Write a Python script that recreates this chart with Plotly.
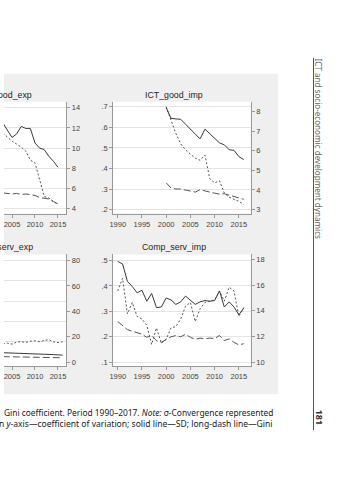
import plotly.graph_objects as go

W, H = 359, 480
def fx(p): return p / W
def fy(p): return 1 - p / H

# ---------------- data ----------------
# ICT_good_exp (visible part, right axis units)
yrs_ge = list(range(2003, 2016))
ge_sd   = [12.5, 11.7, 11.05, 11.4, 12.15, 11.95, 11.95, 10.5, 10.0, 9.85, 9.2, 8.7, 8.1]
ge_cv   = [11.5, 11.1, 10.7, 10.4, 10.1, 9.7, 8.8, 8.55, 6.9, 5.2, 5.05, 4.75, 4.4]
ge_gini = [5.55, 5.5, 5.45, 5.5, 5.4, 5.45, 5.4, 5.3, 5.1, 5.05, 4.95, 4.7, 4.45]

# ICT_good_imp
yrs_gi = list(range(2000, 2017))
gi_sd   = [8.2, 7.65, 7.62, 7.6, 7.35, 7.1, 6.85, 6.6, 7.1, 6.85, 6.65, 6.4, 6.3, 6.05, 6.02, 5.7, 5.55]
gi_cv   = [.70, .63, .57, .52, .49, .47, .45, .44, .465, .35, .33, .34, .28, .26, .25, .24, .225]
gi_gini = [.33, .305, .30, .30, .295, .29, .285, .297, .29, .285, .28, .275, .277, .27, .265, .258, .25]

# Comp_serv_exp (visible part, right axis units)
yrs_se = list(range(2003, 2017))
se_cv   = [14.5, 15.0, 14.2, 15.8, 16.3, 15.5, 16.5, 16.8, 16.2, 17.2, 17.8, 16.0, 15.5, 16.0]
se_sd   = [7.5, 7.4, 7.2, 7.0, 6.9, 6.8, 6.7, 6.6, 6.5, 6.4, 6.6, 6.0, 5.8, 5.6]
se_gini = [4.4, 4.3, 4.2, 4.0, 3.9, 3.9, 3.8, 3.8, 3.7, 3.7, 3.8, 3.6, 3.6, 3.5]

# Comp_serv_imp
yrs_si = list(range(1990, 2017))
si_sd   = [17.85, 17.65, 16.3, 15.9, 15.4, 15.6, 14.75, 15.35, 14.25, 14.3, 15.0, 14.85, 14.5,
           14.7, 15.15, 14.8, 14.5, 14.7, 14.8, 14.75, 14.8, 15.55, 14.3, 14.7, 14.3, 13.7, 14.2]
si_cv   = [.38, .43, .29, .335, .28, .27, .245, .17, .235, .175, .19, .235, .24, .27, .32, .335,
           .26, .31, .335, .34, .345, .38, .34, .395, .38, .28, .315]
si_gini = [.26, .245, .228, .222, .215, .21, .198, .205, .185, .178, .19, .2, .205, .2, .21, .198,
           .19, .195, .192, .195, .193, .205, .185, .192, .178, .168, .173]

# tick labels
x_ticks = [1990, 1995, 2000, 2005, 2010, 2015]
gi_left_ticks = [.2, .3, .4, .5, .6, .7]
gi_right_ticks = [3, 4, 5, 6, 7, 8]
ge_right_ticks = [4, 6, 8, 10, 12, 14]
se_right_ticks = [0, 20, 40, 60, 80]
se_grid_ticks = [1, 2, 3, 4, 5]
si_left_ticks = [.1, .2, .3, .4, .5]
si_right_ticks = [10, 12, 14, 16, 18]

def dotlab(v):
    return ("%.1f" % v).lstrip("0")

# ---------------- layout geometry ----------------
XL = [fx(0), fx(63)]
XR = [fx(110.5), fx(249.5)]
YT = [fy(214), fy(102)]
YB = [fy(367), fy(255)]

FONT = "Liberation Sans"
AX = "#9a9a9a"
GRID = "#e4e4e4"
tickfont = dict(size=7.5, color="#444", family=FONT)

def xax(domain, rng, anchor):
    return dict(domain=domain, range=rng, anchor=anchor, tickvals=x_ticks,
                showline=True, linecolor=AX, linewidth=1, ticks="outside", ticklen=3,
                tickcolor=AX, tickwidth=1, tickfont=tickfont, showgrid=False,
                zeroline=False, fixedrange=True)

def yax(rng, anchor, side, tv, tt=None, grid=False, domain=None, overlaying=None):
    d = dict(range=rng, anchor=anchor, side=side, tickvals=tv,
             ticktext=tt if tt else [str(v) for v in tv],
             showline=True, linecolor=AX, linewidth=1, ticks="outside", ticklen=3,
             tickcolor=AX, tickwidth=1, tickfont=tickfont, showgrid=grid,
             gridcolor=GRID, gridwidth=1, zeroline=False, fixedrange=True)
    if domain is not None:
        d["domain"] = domain
    if overlaying:
        d["overlaying"] = overlaying
    return d

SOLID = dict(color="#3a3a3a", width=1, dash="solid")
DOT = dict(color="#555555", width=1, dash="2px,2px")
LDASH = dict(color="#555555", width=1, dash="7px,3px")

fig = go.Figure()
def add(x, y, line, xa, ya):
    fig.add_trace(go.Scatter(x=x, y=y, mode="lines", line=line, xaxis=xa, yaxis=ya,
                             showlegend=False, hoverinfo="skip"))

# panel A: ICT_good_exp
add(yrs_ge, ge_cv, DOT, "x", "y")
add(yrs_ge, ge_gini, LDASH, "x", "y")
add(yrs_ge, ge_sd, SOLID, "x", "y")
# panel B: ICT_good_imp
add(yrs_gi, gi_cv, DOT, "x2", "y2")
add(yrs_gi, gi_gini, LDASH, "x2", "y2")
add(yrs_gi, gi_sd, SOLID, "x2", "y3")
# panel C: Comp_serv_exp (empty trace registers the grid axis y4)
fig.add_trace(go.Scatter(x=[], y=[], mode="lines", xaxis="x3", yaxis="y4",
                         showlegend=False, hoverinfo="skip"))
add(yrs_se, se_cv, DOT, "x3", "y5")
add(yrs_se, se_gini, LDASH, "x3", "y5")
add(yrs_se, se_sd, SOLID, "x3", "y5")
# panel D: Comp_serv_imp
add(yrs_si, si_cv, DOT, "x4", "y6")
add(yrs_si, si_gini, LDASH, "x4", "y6")
add(yrs_si, si_sd, SOLID, "x4", "y7")

xr_left = [2003.26, 2016.81]
xr_right = [1989.08, 2017.45]

fig.update_layout(
    width=W, height=H, margin=dict(l=0, r=0, t=0, b=0),
    paper_bgcolor="white", plot_bgcolor="rgba(0,0,0,0)",
    font=dict(family=FONT, color="#222"),
    xaxis=xax(XL, xr_left, "y"),
    yaxis=yax([3.505, 14.594], "x", "right", ge_right_ticks, grid=True, domain=YT),
    xaxis2=xax(XR, xr_right, "y2"),
    yaxis2=yax([.1806, .7243], "x2", "left", gi_left_ticks,
               [dotlab(v) for v in gi_left_ticks], grid=True, domain=YT),
    yaxis3=yax([2.797, 8.493], "x2", "right", gi_right_ticks, overlaying="y2"),
    xaxis3=xax(XL, xr_left, "y4"),
    yaxis4=dict(domain=YB, range=[-0.196, 5.294], anchor="x3", tickvals=se_grid_ticks,
                showticklabels=False, ticks="", showline=False, showgrid=True,
                gridcolor=GRID, gridwidth=1, zeroline=False, fixedrange=True),
    yaxis5=yax([-3.137, 84.706], "x3", "right", se_right_ticks, overlaying="y4"),
    xaxis4=xax(XR, xr_right, "y6"),
    yaxis6=yax([.0843, .5235], "x4", "left", si_left_ticks,
               [dotlab(v) for v in si_left_ticks], grid=True, domain=YB),
    yaxis7=yax([9.689, 18.388], "x4", "right", si_right_ticks, overlaying="y6"),
)

shapes = [dict(type="rect", xref="paper", yref="paper", x0=fx(0), x1=fx(277),
               y0=fy(395), y1=fy(74), fillcolor="#efefef", line=dict(width=0), layer="below")]
for xd, yd in [(XL, YT), (XR, YT), (XL, YB), (XR, YB)]:
    shapes.append(dict(type="rect", xref="paper", yref="paper", x0=xd[0], x1=xd[1],
                       y0=yd[0], y1=yd[1], fillcolor="white", line=dict(width=0), layer="below"))
shapes.append(dict(type="line", xref="paper", yref="paper", x0=fx(313), x1=fx(313),
                   y0=fy(431), y1=fy(58), line=dict(color="#555", width=1)))
fig.update_layout(shapes=shapes)

title_font = dict(size=8.8, color="#1e1e1e", family=FONT)
cap_font = dict(size=8.4, color="#222", family="Noto Sans")
cap_font2 = dict(size=8.55, color="#222", family="Noto Sans")
ann = [
    dict(text="ICT_good_exp", x=fx(30), y=fy(95), xanchor="right", yanchor="middle", font=title_font),
    dict(text="ICT_good_imp", x=fx(172), y=fy(95), xanchor="center", yanchor="middle", font=title_font),
    dict(text="Comp_serv_exp", x=fx(31), y=fy(248), xanchor="right", yanchor="middle", font=title_font),
    dict(text="Comp_serv_imp", x=fx(172), y=fy(248), xanchor="center", yanchor="middle", font=title_font),
    dict(text="Gini coefficient. Period 1990\u20132017. <i>Note:</i> \u03c3-Convergence represented",
         x=fx(274), y=fy(413), xanchor="right", yanchor="middle", align="right", font=cap_font),
    dict(text="n <i>y</i>-axis\u2014coefficient of variation; solid line\u2014SD; long-dash line\u2014Gini",
         x=fx(274), y=fy(425), xanchor="right", yanchor="middle", align="right", font=cap_font2),
    dict(text="ICT and socio-economic development dynamics", x=fx(318.5), y=fy(57),
         xanchor="center", yanchor="top", textangle=90,
         font=dict(size=8.1, color="#666", family="Noto Sans")),
    dict(text="<b>181</b>", x=fx(319), y=fy(418), xanchor="center", yanchor="middle", textangle=90,
         font=dict(size=9, color="#333", family="Noto Sans")),
]
for a in ann:
    a.update(xref="paper", yref="paper", showarrow=False)
fig.update_layout(annotations=ann)

fig.write_html("out.html", config={"displayModeBar": False},
               post_script="document.body.style.margin='0px';document.body.style.overflow='hidden';")
